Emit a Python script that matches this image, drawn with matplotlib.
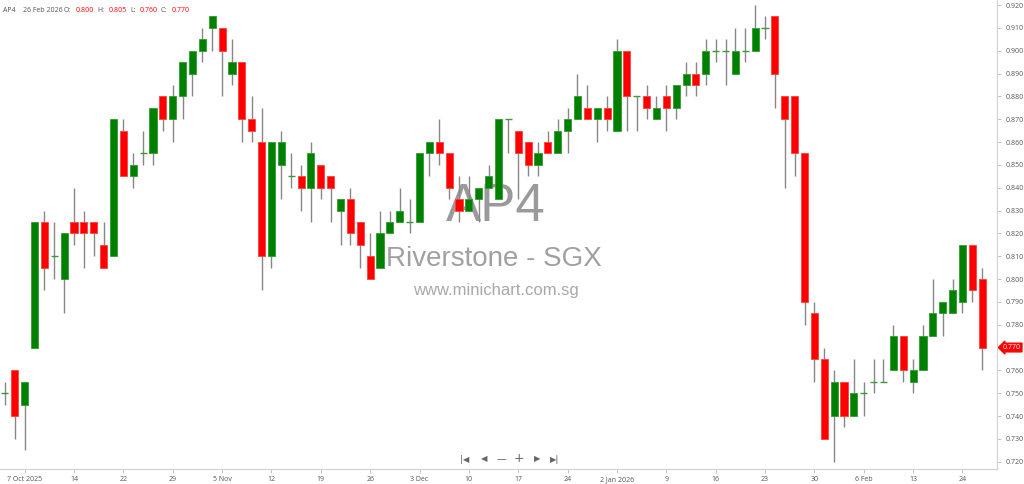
import matplotlib
matplotlib.use('Agg')
import matplotlib.pyplot as plt
import matplotlib.transforms as mtransforms
import numpy as np

# daily OHLC, 3 Oct 2025 .. 26 Feb 2026 (SGX trading days)
opens = [0.750, 0.760, 0.745, 0.770, 0.825, 0.810, 0.800, 0.825, 0.825, 0.825,
         0.815, 0.810, 0.865, 0.845, 0.855, 0.855, 0.880, 0.870, 0.880, 0.890,
         0.900, 0.910, 0.910, 0.890, 0.895, 0.870, 0.860, 0.810, 0.850, 0.845,
         0.845, 0.840, 0.850, 0.845, 0.830, 0.835, 0.825, 0.810, 0.805, 0.820,
         0.825, 0.825, 0.825, 0.855, 0.860, 0.855, 0.835, 0.830, 0.835, 0.840,
         0.835, 0.870, 0.865, 0.860, 0.850, 0.860, 0.855, 0.865, 0.870, 0.875,
         0.870, 0.875, 0.865, 0.900, 0.880, 0.880, 0.870, 0.880, 0.875, 0.885,
         0.890, 0.890, 0.900, 0.900, 0.890, 0.900, 0.900, 0.910, 0.915, 0.880,
         0.880, 0.855, 0.785, 0.765, 0.740, 0.755, 0.740, 0.750, 0.755, 0.755,
         0.760, 0.775, 0.755, 0.760, 0.775, 0.785, 0.785, 0.790, 0.815, 0.800]
highs = [0.755, 0.760, 0.755, 0.825, 0.830, 0.825, 0.820, 0.840, 0.830, 0.825,
         0.825, 0.870, 0.870, 0.855, 0.865, 0.875, 0.880, 0.885, 0.895, 0.900,
         0.910, 0.915, 0.910, 0.905, 0.895, 0.880, 0.875, 0.860, 0.865, 0.855,
         0.850, 0.860, 0.850, 0.845, 0.835, 0.840, 0.825, 0.820, 0.830, 0.830,
         0.840, 0.835, 0.855, 0.860, 0.870, 0.855, 0.845, 0.845, 0.840, 0.850,
         0.870, 0.870, 0.865, 0.860, 0.860, 0.865, 0.870, 0.875, 0.890, 0.885,
         0.875, 0.880, 0.905, 0.900, 0.880, 0.885, 0.880, 0.885, 0.885, 0.895,
         0.895, 0.905, 0.905, 0.905, 0.910, 0.910, 0.920, 0.915, 0.915, 0.880,
         0.880, 0.855, 0.790, 0.770, 0.760, 0.755, 0.765, 0.755, 0.765, 0.765,
         0.780, 0.775, 0.765, 0.780, 0.800, 0.790, 0.800, 0.815, 0.815, 0.805]
lows = [0.745, 0.730, 0.725, 0.770, 0.795, 0.800, 0.785, 0.815, 0.805, 0.810,
        0.805, 0.810, 0.845, 0.840, 0.850, 0.850, 0.865, 0.860, 0.870, 0.880,
        0.895, 0.900, 0.880, 0.885, 0.860, 0.860, 0.795, 0.805, 0.835, 0.840,
        0.830, 0.825, 0.835, 0.825, 0.815, 0.815, 0.805, 0.800, 0.805, 0.820,
        0.825, 0.820, 0.825, 0.845, 0.850, 0.835, 0.825, 0.830, 0.825, 0.840,
        0.835, 0.855, 0.835, 0.845, 0.845, 0.855, 0.855, 0.855, 0.870, 0.870,
        0.860, 0.865, 0.865, 0.865, 0.865, 0.870, 0.870, 0.865, 0.870, 0.880,
        0.880, 0.885, 0.895, 0.885, 0.890, 0.895, 0.900, 0.905, 0.875, 0.840,
        0.845, 0.780, 0.755, 0.730, 0.720, 0.735, 0.740, 0.740, 0.750, 0.755,
        0.760, 0.755, 0.750, 0.760, 0.775, 0.775, 0.785, 0.785, 0.790, 0.760]
closes = [0.750, 0.740, 0.755, 0.825, 0.805, 0.810, 0.820, 0.820, 0.820, 0.820,
          0.805, 0.870, 0.845, 0.850, 0.855, 0.875, 0.870, 0.880, 0.895, 0.900,
          0.905, 0.915, 0.900, 0.895, 0.870, 0.865, 0.810, 0.860, 0.860, 0.845,
          0.840, 0.855, 0.840, 0.840, 0.835, 0.820, 0.815, 0.800, 0.820, 0.825,
          0.830, 0.825, 0.855, 0.860, 0.855, 0.840, 0.830, 0.835, 0.840, 0.845,
          0.870, 0.870, 0.855, 0.850, 0.855, 0.855, 0.865, 0.870, 0.880, 0.870,
          0.875, 0.870, 0.900, 0.880, 0.880, 0.875, 0.875, 0.875, 0.885, 0.890,
          0.885, 0.900, 0.900, 0.900, 0.900, 0.900, 0.910, 0.910, 0.890, 0.870,
          0.855, 0.790, 0.765, 0.730, 0.755, 0.740, 0.750, 0.750, 0.755, 0.755,
          0.775, 0.760, 0.760, 0.775, 0.785, 0.790, 0.795, 0.815, 0.795, 0.770]

date_ticks = [2, 7, 12, 17, 22, 27, 32, 37, 42, 47, 52, 57, 62, 67, 72, 77, 82, 87, 92, 97]
date_labels = ['7 Oct 2025', '14', '22', '29', '5 Nov', '12', '19', '26', '3 Dec', '10',
               '17', '24', '2 Jan 2026', '9', '16', '23', '30', '6 Feb', '13', '24']
price_ticks = [0.72, 0.73, 0.74, 0.75, 0.76, 0.78, 0.79, 0.80, 0.81, 0.82,
               0.83, 0.84, 0.85, 0.86, 0.87, 0.88, 0.89, 0.90, 0.91, 0.92]

GREEN = '#008000'
RED = '#ff0000'
GREY = '#555555'
plt.rcParams['font.family'] = ['Open Sans', 'DejaVu Sans']

o = np.array(opens)
h = np.array(highs)
l = np.array(lows)
c = np.array(closes)
x = np.arange(len(o))

fig = plt.figure(figsize=(10.24, 4.84), dpi=100)
ax = fig.add_axes([0.0, 15 / 484, 997 / 1024, 469 / 484])

# watermark
ax.text(0.497, 0.558, 'AP4', transform=ax.transAxes, ha='center', va='center',
        fontsize=38, color='#9a9a9a', family='Liberation Sans', zorder=0)
ax.text(0.4955, 0.448, 'Riverstone - SGX', transform=ax.transAxes, ha='center', va='center',
        fontsize=20, color='#a0a0a0', family='Liberation Sans', zorder=0)
ax.text(0.497, 0.38, 'www.minichart.com.sg', transform=ax.transAxes, ha='center', va='center',
        fontsize=12, color='#a8a8a8', family='Liberation Sans', zorder=0)

# wicks
ax.vlines(x, l, h, color='#878787', linewidth=1, zorder=2)

up = c > o
down = c < o
flat = c == o
ax.bar(x[up], (c - o)[up], bottom=o[up], width=0.72, color=GREEN,
       edgecolor='#2e9e2e', linewidth=0.6, zorder=3)
ax.bar(x[down], (o - c)[down], bottom=c[down], width=0.72, color=RED,
       edgecolor='#ff4040', linewidth=0.6, zorder=3)
ax.hlines(c[flat], x[flat] - 0.36, x[flat] + 0.36, color='#3a9a3a', linewidth=1, zorder=3)

ax.set_xlim(-0.5, 100.5)
ax.set_ylim(0.7168, 0.9222)

for s in ['top', 'left']:
    ax.spines[s].set_visible(False)
for s in ['bottom', 'right']:
    ax.spines[s].set_color('#d0d0d0')
    ax.spines[s].set_linewidth(0.8)

ax.yaxis.tick_right()
ax.set_yticks(price_ticks)
ax.set_yticklabels(['%.3f' % p for p in price_ticks])
ax.set_xticks(date_ticks)
ax.set_xticklabels(date_labels)
ax.tick_params(axis='y', labelsize=5, colors='#bbbbbb', labelcolor=GREY, length=3, width=0.6, pad=3)
ax.tick_params(axis='x', labelsize=5, colors='#bbbbbb', labelcolor=GREY, length=3, width=0.6, pad=2)

# last price tag
last = closes[-1]
trans = mtransforms.blended_transform_factory(ax.transAxes, ax.transData)
ax.text(1.006, last, '%.3f' % last, transform=trans, ha='left', va='center', fontsize=5,
        color='white', clip_on=False,
        bbox=dict(boxstyle='larrow,pad=0.12', fc=RED, ec=RED))

# header line
hy = 1 - 10 / 484
parts = [(3, 'AP4', GREY), (23, '26 Feb 2026', GREY), (64, 'O:', GREY), (76, '%.3f' % opens[-1], RED),
         (97, 'H:', GREY), (109, '%.3f' % highs[-1], RED), (130, 'L:', GREY), (140, '%.3f' % lows[-1], RED),
         (161, 'C:', GREY), (172, '%.3f' % closes[-1], RED)]
for px, s, col in parts:
    fig.text(px / 1024, hy, s, fontsize=5, color=col, ha='left', va='center')

# navigation buttons
ny = 1 - 459 / 484
fig.text(465 / 1024, ny, '|◀', fontsize=6, color='#666666', ha='center', va='center', family='DejaVu Sans')
fig.text(484 / 1024, ny, '◀', fontsize=6, color='#666666', ha='center', va='center', family='DejaVu Sans')
fig.text(501 / 1024, ny, '—', fontsize=7, color='#666666', ha='center', va='center', family='DejaVu Sans')
fig.text(519 / 1024, ny, '+', fontsize=9, color='#666666', ha='center', va='center', family='DejaVu Sans')
fig.text(537 / 1024, ny, '▶', fontsize=6, color='#666666', ha='center', va='center', family='DejaVu Sans')
fig.text(555 / 1024, ny, '▶|', fontsize=6, color='#666666', ha='center', va='center', family='DejaVu Sans')

fig.savefig('out.png', dpi=100)
